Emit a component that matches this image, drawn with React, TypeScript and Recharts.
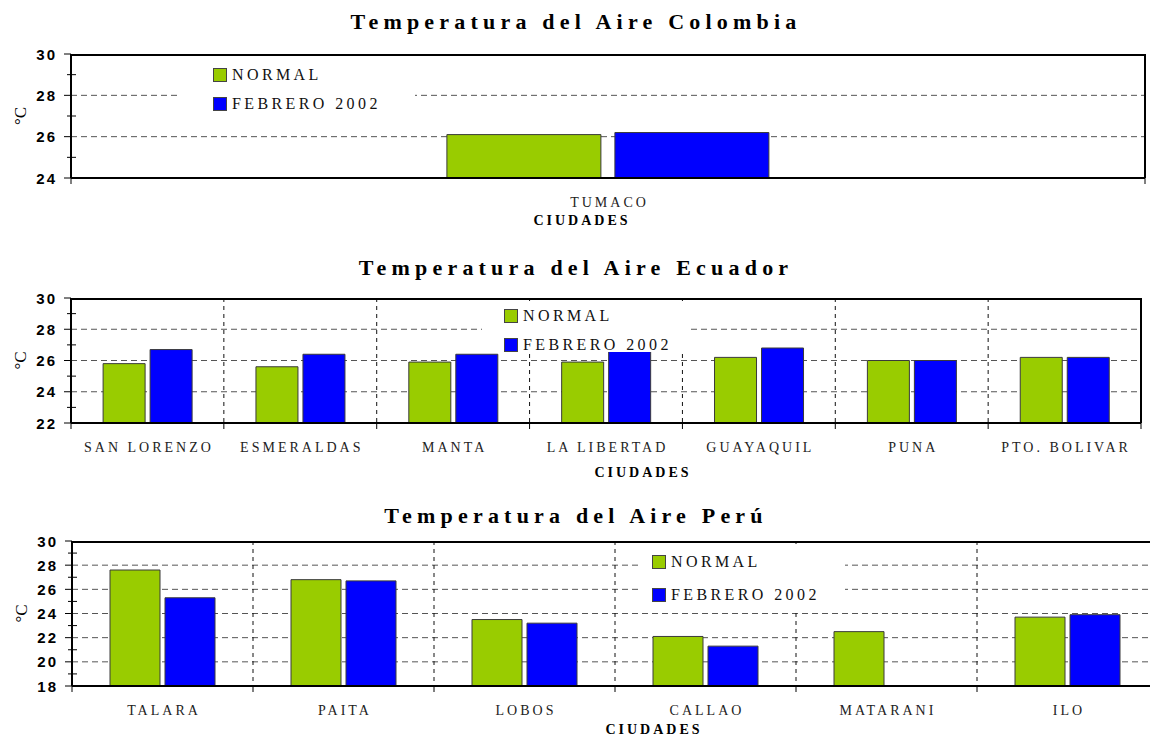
import React from 'react';
import { BarChart, Bar, XAxis, YAxis, CartesianGrid, Legend } from 'recharts';

const SERIES = ['NORMAL', 'FEBRERO 2002'];
const GREEN = '#99CC00';
const BLUE = '#0000FF';

// Colombia
const colombiaCities = ['TUMACO'];
const colombiaNormal = [26.1];
const colombiaFeb = [26.2];
const colombiaTicks = [24, 25, 26, 27, 28, 29, 30];

// Ecuador
const ecuadorCities = ['SAN LORENZO', 'ESMERALDAS', 'MANTA', 'LA LIBERTAD', 'GUAYAQUIL', 'PUNA', 'PTO. BOLIVAR'];
const ecuadorNormal = [25.8, 25.6, 25.9, 25.9, 26.2, 26.0, 26.2];
const ecuadorFeb = [26.7, 26.4, 26.4, 26.6, 26.8, 26.0, 26.2];
const ecuadorTicks = [22, 23, 24, 25, 26, 27, 28, 29, 30];

// Peru
const peruCities = ['TALARA', 'PAITA', 'LOBOS', 'CALLAO', 'MATARANI', 'ILO'];
const peruNormal = [27.6, 26.8, 23.5, 22.1, 22.5, 23.7];
const peruFeb = [25.3, 26.7, 23.2, 21.3, null, 23.9];
const peruTicks = [18, 19, 20, 21, 22, 23, 24, 25, 26, 27, 28, 29, 30];

const Y_AXIS_W = 60;

type LegendBox = { left: number; top: number; width: number; height: number; padLeft: number; padTop: number; rowGap: number };

type PanelProps = {
  title: string;
  titleTop: number;
  cities: string[];
  normal: (number | null)[];
  feb: (number | null)[];
  yTicks: number[];
  top: number;
  width: number;
  height: number;
  margin: { top: number; right: number; bottom: number; left: number };
  axisHeight: number;
  legend: LegendBox;
  labelDx: number;
  labelDy: number;
  categoryGap: string;
  barGap: number;
  vGrid: boolean;
  rightBorder: boolean;
};

const buildRows = (cities: string[], normal: (number | null)[], feb: (number | null)[]) =>
  cities.map((city, i) => ({ city, normal: normal[i], feb: feb[i] }));

function Panel(p: PanelProps) {
  const data = buildRows(p.cities, p.normal, p.feb);
  const yMin = p.yTicks[0];
  const yMax = p.yTicks[p.yTicks.length - 1];
  const gridVals = p.yTicks.filter((v) => v % 2 === 0 && v !== yMin && v !== yMax);
  const plotW = p.width - p.margin.left - Y_AXIS_W - p.margin.right;
  const band = plotW / p.cities.length;
  const n = p.cities.length;

  const hGen = ({ yAxis, offset }: any) =>
    gridVals.map((v) => {
      const s = yAxis && typeof yAxis.scale === 'function' ? yAxis.scale(v) : NaN;
      return Number.isFinite(s) ? s : offset.top + ((yMax - v) / (yMax - yMin)) * offset.height;
    });
  const vGen = ({ offset }: any) => {
    const out: number[] = [];
    for (let i = 1; i < n; i++) out.push(offset.left + (i * offset.width) / n);
    return out;
  };
  // plot frame: top edge and (optionally) right edge
  const frameH = ({ offset }: any) => [offset.top + 1];
  const frameV = ({ offset }: any) => (p.rightBorder ? [offset.left + offset.width] : []);

  const xTick = (t: any) => (
    <g>
      <line x1={t.x - band / 2} y1={t.y} x2={t.x - band / 2} y2={t.y + 6} stroke="#000" strokeWidth={1} />
      {t.index === n - 1 && <line x1={t.x + band / 2} y1={t.y} x2={t.x + band / 2} y2={t.y + 6} stroke="#000" strokeWidth={1} />}
      <text x={t.x + 1.5} y={t.y + 24} textAnchor="middle" dominantBaseline="central" fontFamily="Liberation Serif" fontSize={14} letterSpacing={3} fill="#222">
        {t.payload.value}
      </text>
    </g>
  );

  const yTick = (t: any) => {
    const v = t.payload.value;
    const major = v % 2 === 0;
    return (
      <g>
        {major ? (
          <line x1={t.x - 7} y1={t.y} x2={t.x} y2={t.y} stroke="#000" strokeWidth={1} />
        ) : (
          <line x1={t.x - 4} y1={t.y} x2={t.x + 5} y2={t.y} stroke="#000" strokeWidth={1} />
        )}
        {major && (
          <text x={t.x - 14} y={t.y} textAnchor="end" dominantBaseline="central" fontFamily="Liberation Sans" fontWeight="bold" fontSize={15} letterSpacing={2} fill="#000">
            {v}
          </text>
        )}
      </g>
    );
  };

  const legendContent = (lp: any) => {
    const payload = lp.payload || [];
    const items = SERIES.map((s, i) => {
      const found = payload.find((e: any) => e.value === s);
      return { value: s, color: found && found.color ? found.color : i ? BLUE : GREEN };
    });
    return (
      <div style={{ position: 'relative', width: p.legend.width, height: p.legend.height, background: '#fff' }}>
        {items.map((it: any, i: number) => (
          <div key={i} style={{ position: 'absolute', left: p.legend.padLeft, top: p.legend.padTop + i * p.legend.rowGap, display: 'flex', alignItems: 'center', height: 14 }}>
            <span style={{ display: 'inline-block', width: 12, height: 12, background: it.color, border: '1px solid #444', marginRight: 5 }} />
            <span style={{ fontFamily: 'Liberation Serif', fontSize: 16, letterSpacing: 3.4, color: '#111', lineHeight: '14px', whiteSpace: 'nowrap' }}>{it.value}</span>
          </div>
        ))}
      </div>
    );
  };

  const degLabel = (lp: any) => {
    const vb = lp.viewBox || {};
    const cx = vb.x + 9;
    const cy = vb.y + vb.height / 2;
    return (
      <text x={cx} y={cy} transform={`rotate(-90, ${cx}, ${cy})`} textAnchor="middle" dominantBaseline="central" fontFamily="Liberation Serif" fontSize={17} fill="#000">
        °C
      </text>
    );
  };

  const cityLabel = (lp: any) => {
    const vb = lp.viewBox || {};
    return (
      <text x={vb.x + vb.width / 2 + p.labelDx} y={vb.y + p.labelDy} textAnchor="middle" dominantBaseline="central" fontFamily="Liberation Serif" fontWeight="bold" fontSize={14} letterSpacing={3} fill="#000">
        CIUDADES
      </text>
    );
  };

  return (
    <>
      <div style={{ position: 'absolute', left: 0, width: 1152, top: p.titleTop, textAlign: 'center', fontFamily: 'Liberation Serif', fontWeight: 'bold', fontSize: 22, letterSpacing: 5.2, color: '#000', lineHeight: '24px' }}>
        {p.title}
      </div>
      <div style={{ position: 'absolute', left: 0, top: p.top }}>
        <BarChart width={p.width} height={p.height} data={data} margin={p.margin} barCategoryGap={p.categoryGap} barGap={p.barGap}>
          <CartesianGrid vertical={false} stroke="#555" strokeDasharray="6 4" horizontalCoordinatesGenerator={hGen} />
          {p.vGrid && <CartesianGrid horizontal={false} stroke="#111" strokeDasharray="4 4" verticalCoordinatesGenerator={vGen} />}
          <XAxis
            dataKey="city"
            interval={0}
            height={p.axisHeight}
            tickSize={0}
            tickMargin={0}
            tickLine={false}
            axisLine={{ stroke: '#000', strokeWidth: 2 }}
            tick={xTick}
            label={cityLabel}
          />
          <YAxis
            width={Y_AXIS_W}
            domain={[yMin, yMax]}
            ticks={p.yTicks}
            interval={0}
            allowDataOverflow
            tickSize={0}
            tickMargin={0}
            tickLine={false}
            axisLine={{ stroke: '#000', strokeWidth: 2 }}
            tick={yTick}
            label={degLabel}
          />
          <Legend
            layout="vertical"
            align="center"
            verticalAlign="middle"
            content={legendContent}
            wrapperStyle={{ left: p.legend.left, top: p.legend.top, right: 'auto', bottom: 'auto', width: p.legend.width, height: p.legend.height }}
          />
          <Bar dataKey="normal" name={SERIES[0]} fill={GREEN} stroke="#3a3a3a" strokeWidth={1} isAnimationActive={false} />
          <Bar dataKey="feb" name={SERIES[1]} fill={BLUE} stroke="#3a3a3a" strokeWidth={1} isAnimationActive={false} />
          <CartesianGrid stroke="#000" strokeWidth={2} horizontalCoordinatesGenerator={frameH} verticalCoordinatesGenerator={frameV} />
        </BarChart>
      </div>
    </>
  );
}

export default function App() {
  return (
    <div style={{ position: 'absolute', left: 0, top: 0, width: 1150, height: 736, overflow: 'hidden', background: '#fff' }}>
      <Panel
        title="Temperatura del Aire Colombia"
        titleTop={10}
        cities={colombiaCities}
        normal={colombiaNormal}
        feb={colombiaFeb}
        yTicks={colombiaTicks}
        top={40}
        width={1150}
        height={188}
        margin={{ top: 14, right: 5, bottom: 0, left: 11 }}
        axisHeight={50}
        legend={{ left: 180, top: 20, width: 235, height: 58, padLeft: 33, padTop: 8, rowGap: 29 }}
        labelDx={-26}
        labelDy={42}
        categoryGap="35%"
        barGap={14}
        vGrid={false}
        rightBorder
      />
      <Panel
        title="Temperatura del Aire Ecuador"
        titleTop={256}
        cities={ecuadorCities}
        normal={ecuadorNormal}
        feb={ecuadorFeb}
        yTicks={ecuadorTicks}
        top={285}
        width={1150}
        height={193}
        margin={{ top: 13, right: 9, bottom: 0, left: 11 }}
        axisHeight={55}
        legend={{ left: 482, top: 16, width: 208, height: 51, padLeft: 22, padTop: 8, rowGap: 29 }}
        labelDx={37}
        labelDy={49}
        categoryGap="21%"
        barGap={5}
        vGrid
        rightBorder
      />
      <Panel
        title="Temperatura del Aire Perú"
        titleTop={504}
        cities={peruCities}
        normal={peruNormal}
        feb={peruFeb}
        yTicks={peruTicks}
        top={528}
        width={1163}
        height={208}
        margin={{ top: 13, right: 5, bottom: 0, left: 12 }}
        axisHeight={50}
        legend={{ left: 638, top: 16, width: 207, height: 66, padLeft: 14, padTop: 11, rowGap: 33 }}
        labelDx={39}
        labelDy={43}
        categoryGap="21%"
        barGap={5}
        vGrid
        rightBorder={false}
      />
    </div>
  );
}
